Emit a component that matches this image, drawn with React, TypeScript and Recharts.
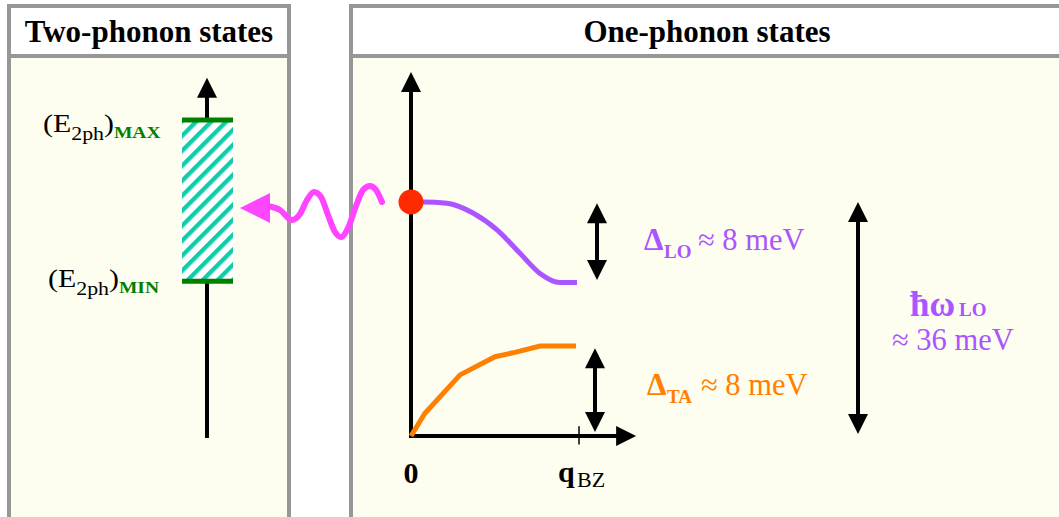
import React from "react";
import { ComposedChart, Line, XAxis, YAxis, ReferenceLine, ReferenceArea, ReferenceDot } from "recharts";

const W = 1059;
const H = 517;

// LO branch, q in units of q_BZ, energy in meV
const qLO = [0, 0.071, 0.214, 0.369, 0.512, 0.649, 0.768, 0.887, 0.988];
const eLO = [36, 36, 35.8, 34.3, 31.7, 28.1, 25.0, 23.6, 23.6];

// TA branch
const qTA = [0, 0.083, 0.292, 0.5, 0.607, 0.768, 0.982];
const eTA = [0, 3.5, 9.4, 12.2, 12.8, 13.85, 13.85];

// two-phonon band limits (meV)
const E2PH_MIN = 23.8;
const E2PH_MAX = 48.6;

// energy spans of the double arrows (meV)
const spanLO = [24.0, 35.8];
const spanTA = [0.6, 13.5];
const spanTotal = [0.3, 36];

// photon squiggle (page units)
const photonX = [268, 280, 292, 300, 307, 314, 321, 328, 335, 341, 348, 356, 363, 370, 376, 382];
const photonY = [206, 210, 220, 214, 200, 192, 197, 215, 232, 237, 228, 206, 190, 186, 190, 202];

const loData = qLO.map((x, i) => ({ x, y: eLO[i] }));
const taData = qTA.map((x, i) => ({ x, y: eTA[i] }));
const photonData = photonX.map((x, i) => ({ x, y: photonY[i] }));

// layout of the scales
const ORIGIN_X = 411;
const PX_PER_Q = 168;
const ORIGIN_Y = 436;
const PX_PER_MEV = 6.5;
const qDomain = [-ORIGIN_X / PX_PER_Q, (W - ORIGIN_X) / PX_PER_Q];
const eDomain = [-(H - ORIGIN_Y) / PX_PER_MEV, ORIGIN_Y / PX_PER_MEV];

const CREAM = "#FDFDF0";
const BORDER = "#979797";
const PURPLE = "#AA55FF";
const ORANGE = "#FF8000";
const PINK = "#FF45FF";
const GREEN = "#008000";
const FONT = '"Liberation Serif", "Times New Roman", serif';

type ArrowOpts = { color: string; width: number; headLen: number; headW: number; start?: boolean; end?: boolean; line?: boolean };

const arrowShape = (o: ArrowOpts) => (p: any) => {
  const { x1, y1, x2, y2 } = p;
  const dx = x2 - x1;
  const dy = y2 - y1;
  const len = Math.hypot(dx, dy) || 1;
  const ux = dx / len;
  const uy = dy / len;
  const nx = -uy;
  const ny = ux;
  const head = (tx: number, ty: number, dx2: number, dy2: number) => {
    const bx = tx - dx2 * o.headLen;
    const by = ty - dy2 * o.headLen;
    return `${tx},${ty} ${bx + (nx * o.headW) / 2},${by + (ny * o.headW) / 2} ${bx - (nx * o.headW) / 2},${by - (ny * o.headW) / 2}`;
  };
  const sx = o.start ? x1 + ux * o.headLen * 0.8 : x1;
  const sy = o.start ? y1 + uy * o.headLen * 0.8 : y1;
  const ex = o.end ? x2 - ux * o.headLen * 0.8 : x2;
  const ey = o.end ? y2 - uy * o.headLen * 0.8 : y2;
  return (
    <g>
      {o.line !== false && <line x1={sx} y1={sy} x2={ex} y2={ey} stroke={o.color} strokeWidth={o.width} />}
      {o.end && <polygon points={head(x2, y2, ux, uy)} fill={o.color} />}
      {o.start && <polygon points={head(x1, y1, -ux, -uy)} fill={o.color} />}
    </g>
  );
};

const axisArrow = arrowShape({ color: "#000", width: 4, headLen: 20, headW: 20, end: true });
const doubleArrow = arrowShape({ color: "#000", width: 4, headLen: 20, headW: 20, start: true, end: true });

// text placed through the page scales
const tag = (key: string, x: number, y: number, content: React.ReactNode) => (
  <ReferenceDot
    key={key}
    xAxisId="page"
    yAxisId="page"
    x={x}
    y={y}
    r={0}
    shape={(p: any) => <g transform={`translate(${p.cx},${p.cy})`}>{content}</g>}
  />
);

const e2phLabel = (which: string) => (
  <g transform="scale(1.15,1)">
    <text fontFamily={FONT} fontSize={26} fill="#000">
      <tspan x={0} y={0}>(E</tspan>
      <tspan y={8} fontSize={19}>2ph</tspan>
      <tspan y={0}>)</tspan>
      <tspan y={6} fontSize={17} fontWeight="bold" fill={GREEN}>{which}</tspan>
    </text>
  </g>
);

const deltaLabel = (sub: string, color: string) => (
  <text fontFamily={FONT} fill={color}>
    <tspan x={0} y={0} fontSize={31} fontWeight="bold">Δ</tspan>
    <tspan x={20} y={8} fontSize={19} fontWeight="bold">{sub}</tspan>
    <tspan x={54} y={0} fontSize={30.5}>≈ 8 meV</tspan>
  </text>
);

const panel = (left: number, width: number, title: string) => (
  <div
    style={{
      position: "absolute",
      left,
      top: 4,
      width,
      height: H + 20,
      border: `4px solid ${BORDER}`,
      boxSizing: "border-box",
      background: CREAM,
    }}
  >
    <div
      style={{
        height: 46,
        background: "#fff",
        borderBottom: `4px solid ${BORDER}`,
        display: "flex",
        alignItems: "center",
        justifyContent: "center",
        fontWeight: "bold",
        fontSize: 31,
        lineHeight: 1,
      }}
    >
      {title}
    </div>
  </div>
);

export default function App() {
  return (
    <div
      style={{
        position: "absolute",
        left: 0,
        top: 0,
        width: W,
        height: H,
        overflow: "hidden",
        background: "#fff",
        fontFamily: FONT,
      }}
    >
      <svg width={0} height={0} style={{ position: "absolute" }}>
        <defs>
          <pattern id="hatch2ph" patternUnits="userSpaceOnUse" width={10.6} height={10.6} patternTransform="rotate(45)">
            <rect width={10.6} height={10.6} fill="#fff" />
            <rect width={4.4} height={10.6} fill="#11CCAA" />
          </pattern>
        </defs>
      </svg>
      {panel(7, 284, "Two-phonon states")}
      {panel(349, 716, "One-phonon states")}
      <div style={{ position: "absolute", left: 0, top: 0 }}>
        <ComposedChart width={W} height={H} margin={{ top: 0, right: 0, bottom: 0, left: 0 }}>
          <XAxis xAxisId="q" dataKey="x" type="number" domain={qDomain} allowDataOverflow hide />
          <XAxis xAxisId="page" dataKey="x" type="number" domain={[0, W]} allowDataOverflow hide />
          <YAxis yAxisId="e" type="number" domain={eDomain} allowDataOverflow hide />
          <YAxis yAxisId="page" type="number" domain={[0, H]} reversed allowDataOverflow hide />

          {/* two-phonon energy axis, split around the band */}
          <ReferenceLine xAxisId="page" yAxisId="e" ifOverflow="visible" stroke="#000" strokeWidth={4}
            segment={[{ x: 207, y: -0.3 }, { x: 207, y: E2PH_MIN }]} />
          <ReferenceLine xAxisId="page" yAxisId="e" ifOverflow="visible" shape={axisArrow}
            segment={[{ x: 207, y: E2PH_MAX }, { x: 207, y: 55.1 }]} />
          <ReferenceArea xAxisId="page" yAxisId="e" x1={182} x2={233} y1={E2PH_MIN} y2={E2PH_MAX}
            fill="url(#hatch2ph)" fillOpacity={1} stroke="none" ifOverflow="visible" />
          <ReferenceLine xAxisId="page" yAxisId="e" ifOverflow="visible" stroke={GREEN} strokeWidth={5}
            segment={[{ x: 182, y: E2PH_MAX }, { x: 233, y: E2PH_MAX }]} />
          <ReferenceLine xAxisId="page" yAxisId="e" ifOverflow="visible" stroke={GREEN} strokeWidth={5}
            segment={[{ x: 182, y: E2PH_MIN }, { x: 233, y: E2PH_MIN }]} />

          {/* dispersion axes */}
          <ReferenceLine xAxisId="q" yAxisId="e" ifOverflow="visible" shape={axisArrow}
            segment={[{ x: 0, y: -0.3 }, { x: 0, y: 56 }]} />
          <ReferenceLine xAxisId="q" yAxisId="e" ifOverflow="visible" shape={axisArrow}
            segment={[{ x: -0.012, y: 0 }, { x: 1.34, y: 0 }]} />
          <ReferenceLine xAxisId="q" yAxisId="e" ifOverflow="visible" stroke="#000" strokeWidth={1.5}
            segment={[{ x: 1, y: -1.3 }, { x: 1, y: 1.5 }]} />

          <Line xAxisId="q" yAxisId="e" data={taData} dataKey="y" type="linear" stroke={ORANGE}
            strokeWidth={5} dot={false} isAnimationActive={false} />
          <Line xAxisId="q" yAxisId="e" data={loData} dataKey="y" type="monotone" stroke={PURPLE}
            strokeWidth={5} dot={false} isAnimationActive={false} />
          <Line xAxisId="page" yAxisId="page" data={photonData} dataKey="y" type="monotone" stroke={PINK}
            strokeWidth={6} strokeLinecap="round" strokeLinejoin="round" dot={false} isAnimationActive={false} />
          <ReferenceLine xAxisId="page" yAxisId="page" ifOverflow="visible"
            shape={arrowShape({ color: PINK, width: 0, headLen: 30, headW: 30, end: true, line: false })}
            segment={[{ x: 272, y: 208 }, { x: 240, y: 208 }]} />

          <ReferenceDot xAxisId="q" yAxisId="e" x={0} y={eLO[0]} r={12.5} fill="#FF2A00" stroke="none" />

          {/* energy spans */}
          <ReferenceLine xAxisId="page" yAxisId="e" ifOverflow="visible" shape={doubleArrow}
            segment={[{ x: 597, y: spanLO[0] }, { x: 597, y: spanLO[1] }]} />
          <ReferenceLine xAxisId="page" yAxisId="e" ifOverflow="visible" shape={doubleArrow}
            segment={[{ x: 595, y: spanTA[0] }, { x: 595, y: spanTA[1] }]} />
          <ReferenceLine xAxisId="page" yAxisId="e" ifOverflow="visible" shape={doubleArrow}
            segment={[{ x: 858, y: spanTotal[0] }, { x: 858, y: spanTotal[1] }]} />

          {tag("max", 43, 132, e2phLabel("MAX"))}
          {tag("min", 48, 287, e2phLabel("MIN"))}
          {tag("dlo", 644, 250, deltaLabel("LO", PURPLE))}
          {tag("dta", 647, 395, deltaLabel("TA", ORANGE))}
          {tag("hw", 910, 316,
            <text fontFamily={FONT} fill={PURPLE} fontWeight="bold">
              <tspan x={0} y={0} fontSize={35}>ħω</tspan>
              <tspan x={49} y={0} fontSize={19}>LO</tspan>
            </text>
          )}
          {tag("e36", 892, 350,
            <text fontFamily={FONT} fill={PURPLE} fontSize={30.5}>≈ 36 meV</text>
          )}
          {tag("zero", 411, 483,
            <text fontFamily={FONT} fontSize={30} fontWeight="bold" textAnchor="middle" fill="#000">0</text>
          )}
          {tag("qbz", 558, 482,
            <text fontFamily={FONT} fill="#000">
              <tspan x={0} y={0} fontSize={30} fontWeight="bold">q</tspan>
              <tspan x={19} y={5} fontSize={22}>BZ</tspan>
            </text>
          )}
        </ComposedChart>
      </div>
    </div>
  );
}
